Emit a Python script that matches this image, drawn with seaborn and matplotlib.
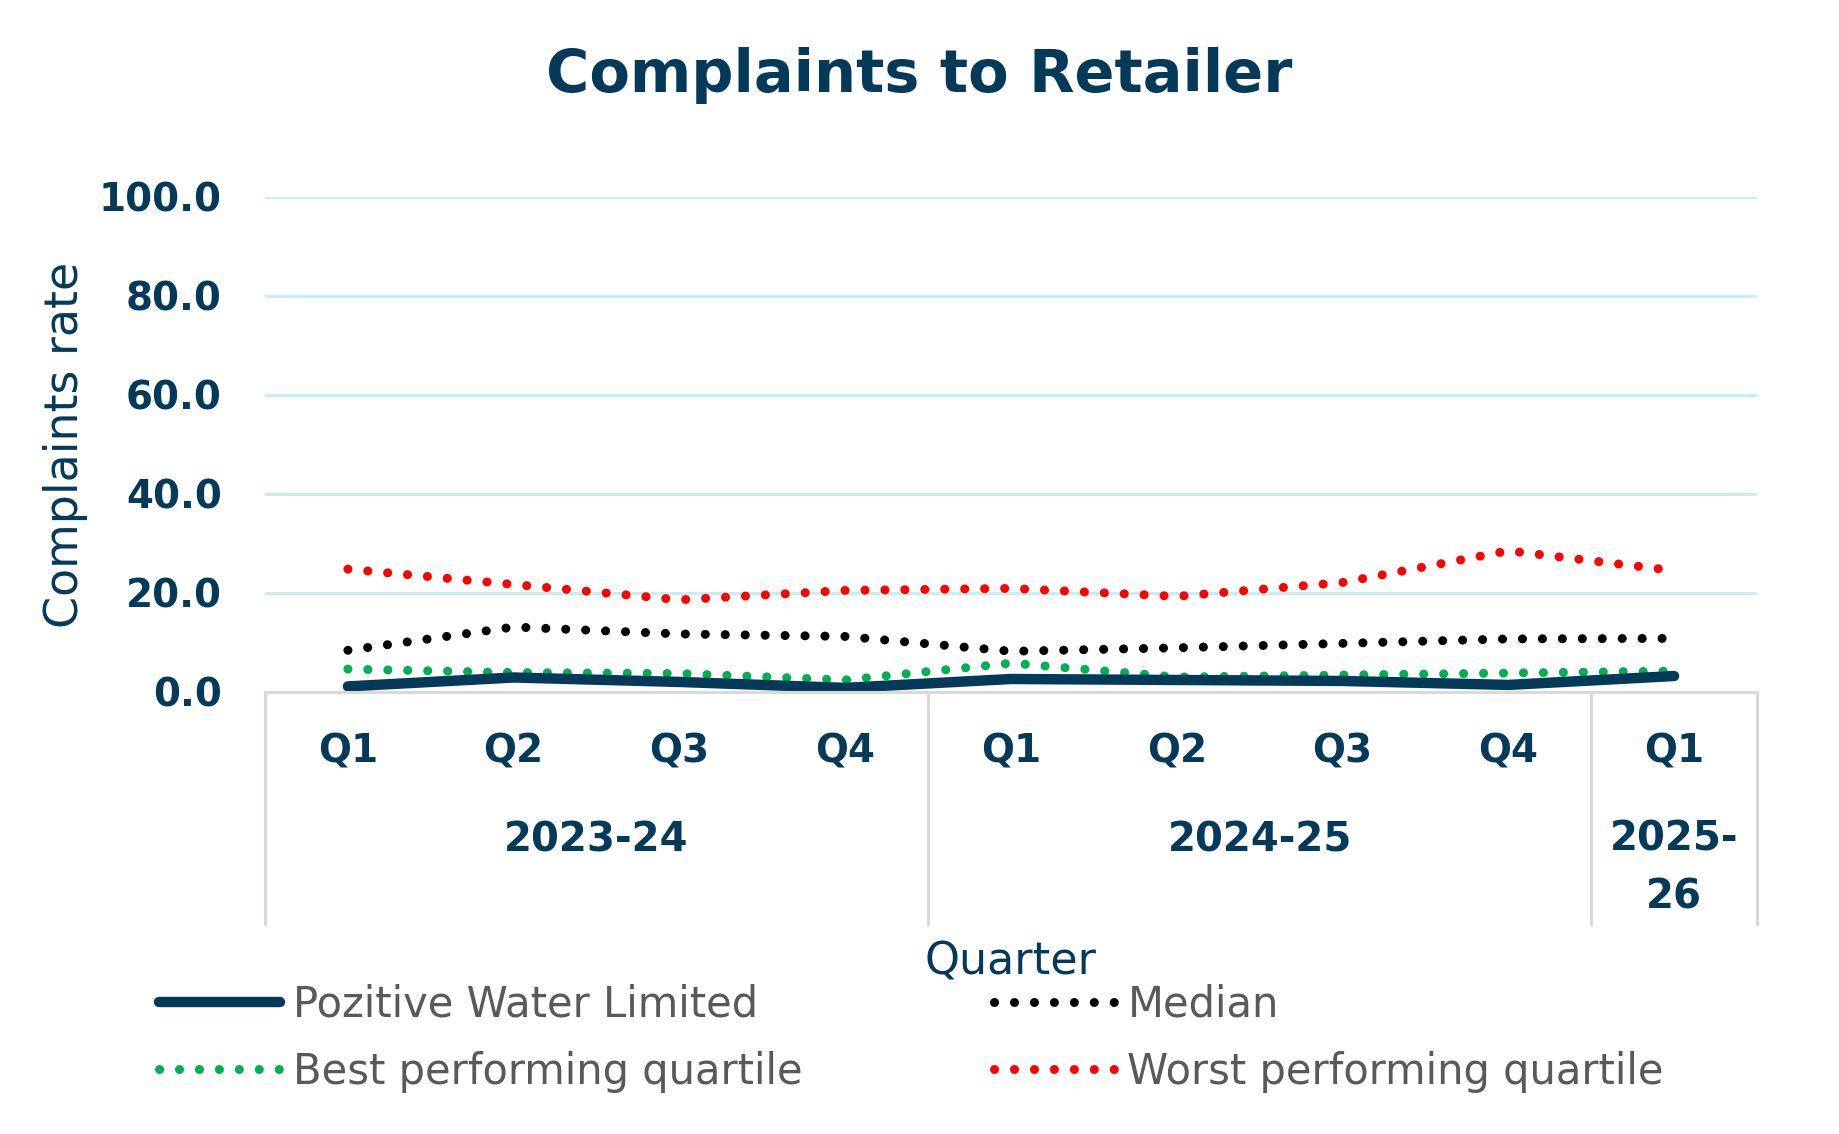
import numpy as np
import pandas as pd
import seaborn as sns
from matplotlib import pyplot as plt
from matplotlib.lines import Line2D
from matplotlib.transforms import blended_transform_factory

# data
quarters = ["Q1", "Q2", "Q3", "Q4", "Q1", "Q2", "Q3", "Q4", "Q1"]
years = ["2023-24", "2024-25", "2025-\n26"]
year_spans = [(0, 3), (4, 7), (8, 8)]
pozitive = [1.1, 2.9, 2.0, 0.8, 2.6, 2.4, 2.2, 1.4, 3.2]
median = [8.4, 13.1, 11.7, 11.2, 8.2, 8.9, 9.8, 10.7, 10.8]
best_q = [4.6, 3.9, 3.7, 2.4, 5.8, 3.0, 3.4, 3.8, 4.2]
worst_q = [24.8, 21.7, 18.6, 20.5, 20.9, 19.3, 22.1, 28.5, 24.5]

NAVY = "#033a5a"
GRID = "#c6eff1"
SEP = "#d9d9d9"
TXT_GREY = "#595959"

df = pd.DataFrame({"x": np.arange(len(quarters)), "pozitive": pozitive,
                   "median": median, "best": best_q, "worst": worst_q})

sns.set_theme(style="white")
plt.rcParams["font.family"] = ["DejaVu Sans"]

fig = plt.figure(figsize=(18.39, 11.34), dpi=100)
ax = fig.add_axes([0.1441, 0.3899, 0.8113, 0.4364])

dot = (0, (0.01, 2.2))
series = [
    ("best", "Best performing quartile", "#00b050", dot, 6.5),
    ("worst", "Worst performing quartile", "#ff0000", dot, 6.5),
    ("median", "Median", "black", dot, 6.5),
    ("pozitive", "Pozitive Water Limited", NAVY, "-", 7.5),
]
handles = {}
for col, label, color, ls, lw in series:
    sns.lineplot(data=df, x="x", y=col, ax=ax, color=color, linestyle=ls,
                 linewidth=lw, dash_capstyle="round", solid_capstyle="round")
    handles[label] = Line2D([], [], color=color, linestyle=ls, linewidth=lw,
                            dash_capstyle="round", solid_capstyle="round")

ax.set_xlim(-0.5, len(quarters) - 0.5)
ax.set_ylim(0, 100)
ax.set_yticks(np.arange(0, 101, 20))
ax.set_yticklabels([f"{v:.1f}" for v in np.arange(0, 101, 20)],
                   fontsize=28, fontweight="bold", color=NAVY)
ax.yaxis.grid(True, color=GRID, linewidth=2.2)
ax.set_axisbelow(True)
ax.tick_params(axis="y", length=0, pad=31)

ax.set_xticks(df["x"])
ax.set_xticklabels(quarters, fontsize=28, fontweight="bold", color=NAVY)
ax.tick_params(axis="x", length=0, pad=29)

for s in ["top", "right", "left"]:
    ax.spines[s].set_visible(False)
ax.spines["bottom"].set_color(SEP)
ax.spines["bottom"].set_linewidth(2.2)

# second level of the category axis
trans = blended_transform_factory(ax.transData, ax.transAxes)
for yr, (a, b) in zip(years, year_spans):
    ax.text((a + b) / 2, -0.357 if "\n" in yr else -0.301, yr, transform=trans,
            ha="center", va="center", fontsize=29, fontweight="bold",
            color=NAVY, linespacing=1.55)
for xb in [-0.5, 3.5, 7.5, 8.5]:
    ax.plot([xb, xb], [0, -0.469], transform=trans, color=SEP, linewidth=2.2,
            clip_on=False)

ax.set_xlabel("")
ax.set_ylabel("Complaints rate", fontsize=33, color=NAVY, labelpad=8)
fig.text(0.5497, 0.152, "Quarter", ha="center", va="center",
         fontsize=32, color=NAVY)
fig.suptitle("Complaints to Retailer", x=0.5, y=0.933, va="center",
             fontsize=42.5, fontweight="bold", color=NAVY)

order = ["Pozitive Water Limited", "Best performing quartile", "Median",
         "Worst performing quartile"]
fig.legend([handles[k] for k in order], order, ncol=2, frameon=False,
           loc="upper left", bbox_to_anchor=(0.0663, 0.1655),
           fontsize=30, labelcolor=TXT_GREY, handlelength=2.9,
           handletextpad=0.3, columnspacing=4.6, labelspacing=0.6)

fig.savefig("out.png", dpi=100)
